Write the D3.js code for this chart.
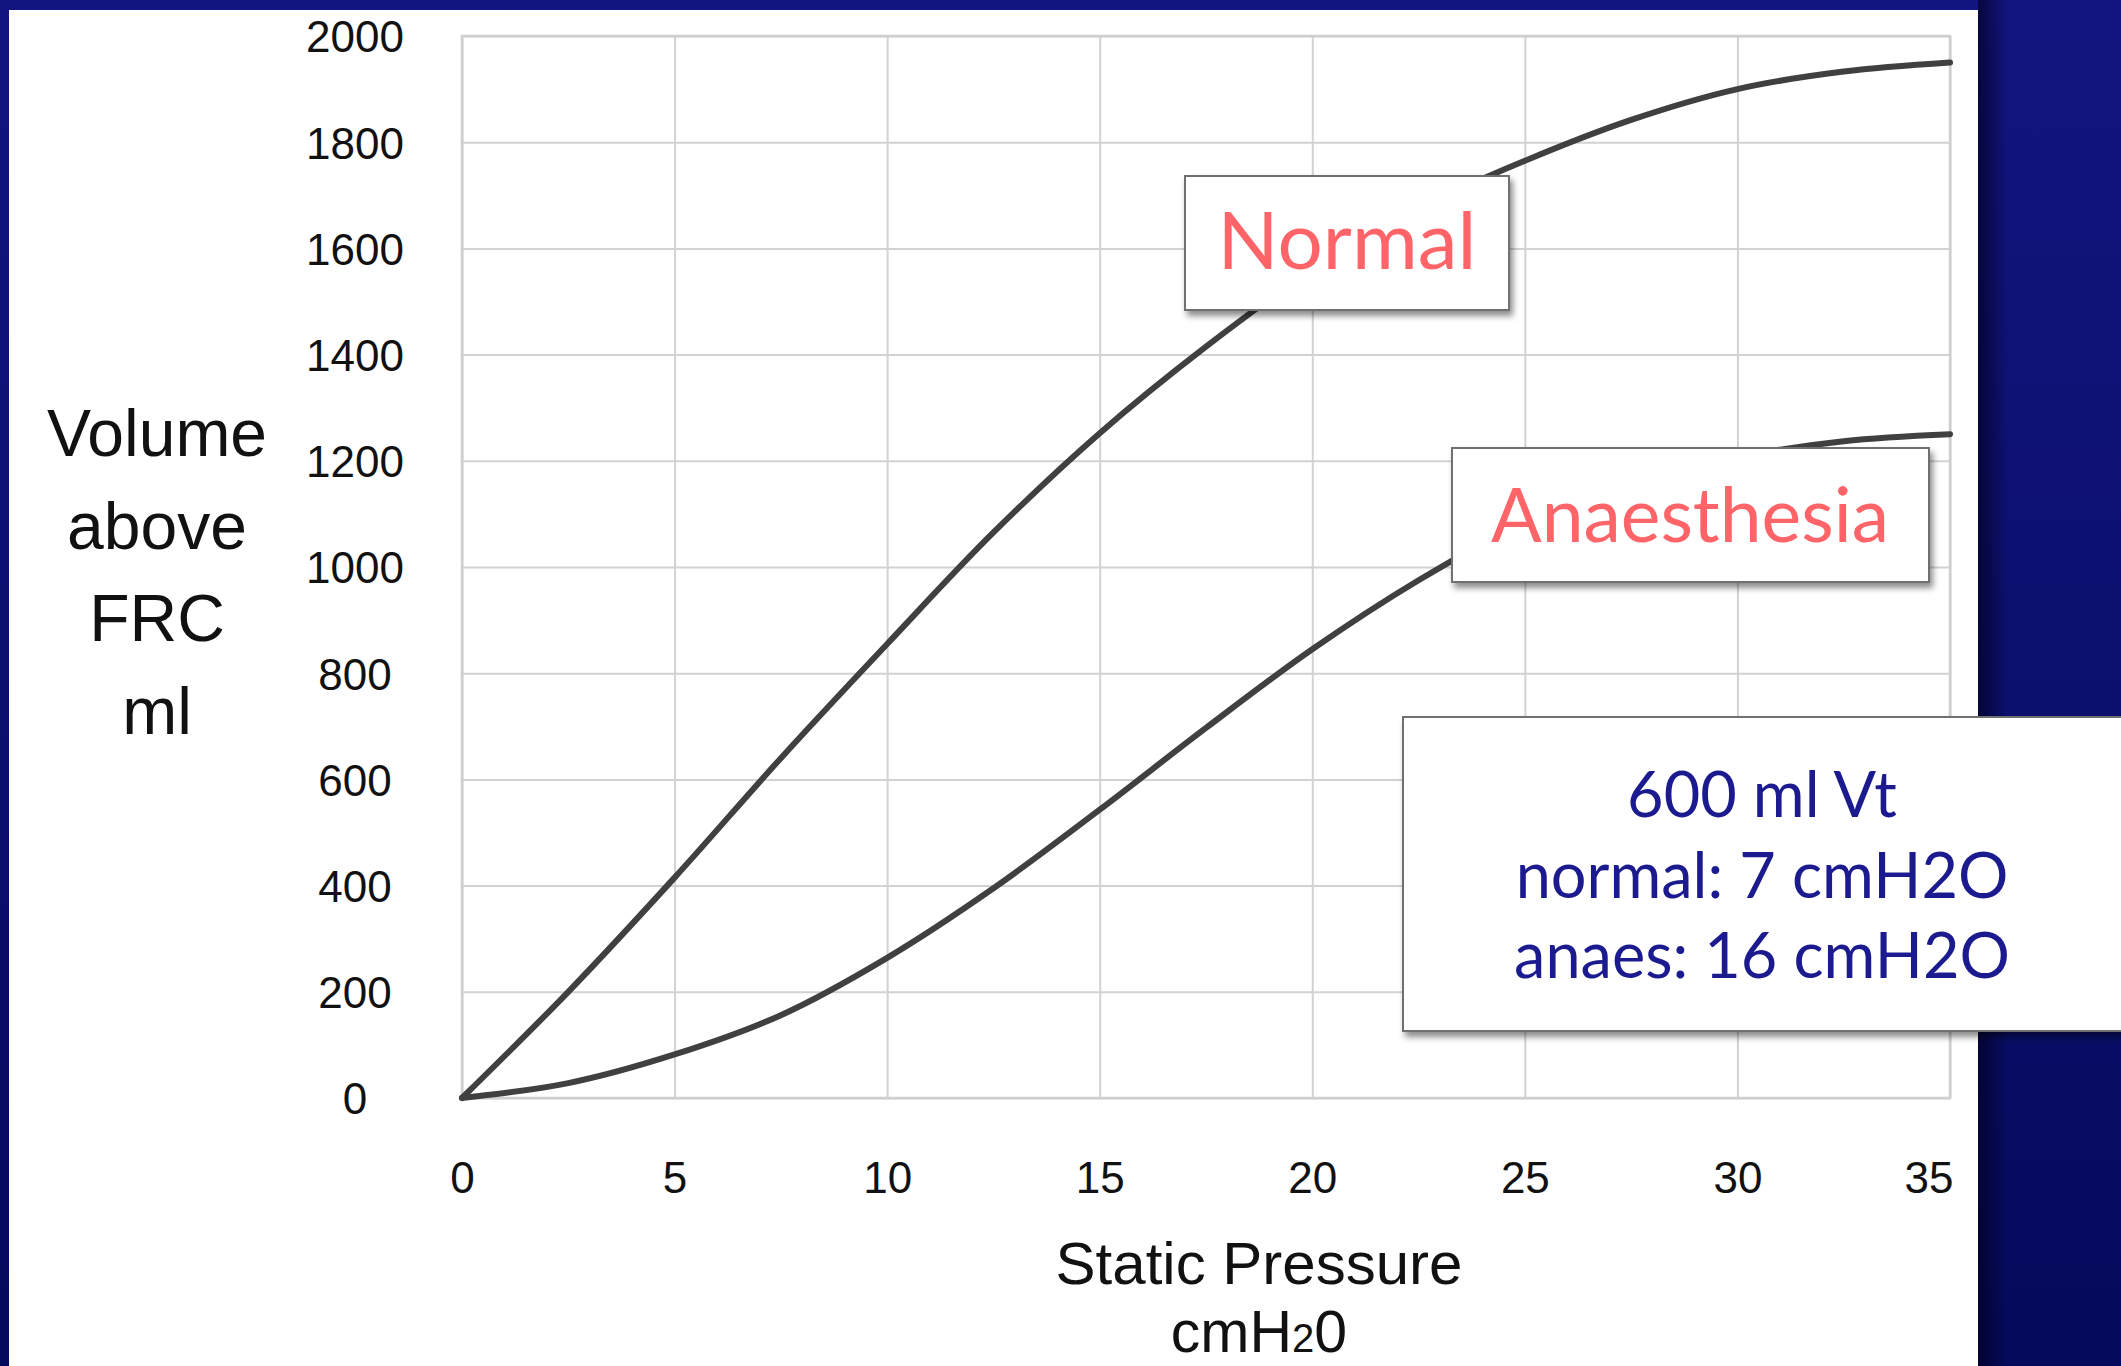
<!DOCTYPE html>
<html>
<head>
<meta charset="utf-8">
<script src="https://cdn.jsdelivr.net/npm/d3@7"></script>
<style>
html, body { margin: 0; padding: 0; background: #0b0e6a; overflow: hidden; }
svg { display: block; }
</style>
</head>
<body>
<div id="chart"></div>
<script>
// values
var pressure      = [0, 2.5, 5, 7.5, 10, 12.5, 15, 17.5, 20, 22.5, 25, 27.5, 30, 32.5, 35];
var normalVolume  = [0, 200, 415, 640, 855, 1065, 1252, 1415, 1560, 1675, 1765, 1842, 1900, 1933, 1950];
var anaesVolume   = [0, 28, 82, 156, 264, 395, 543, 697, 845, 975, 1085, 1160, 1207, 1237, 1250];
var xTicks = [0, 5, 10, 15, 20, 25, 30, 35];
var yTicks = [0, 200, 400, 600, 800, 1000, 1200, 1400, 1600, 1800, 2000];
var yTitleLines = ["Volume", "above", "FRC", "ml"];
var infoLines = ["600 ml Vt", "normal: 7 cmH2O", "anaes: 16 cmH2O"];

var W = 2121, H = 1366;
var plot = {left: 462, right: 1950, top: 36, bottom: 1098};

var svg = d3.select("#chart").append("svg")
    .attr("width", W)
    .attr("height", H);

var defs = svg.append("defs");
var bg = defs.append("linearGradient").attr("id", "bg")
    .attr("x1", 0).attr("y1", 0).attr("x2", 0).attr("y2", 1);
bg.append("stop").attr("offset", "0%").attr("stop-color", "#12157f");
bg.append("stop").attr("offset", "100%").attr("stop-color", "#050a5c");

var edge = defs.append("linearGradient").attr("id", "edge")
    .attr("x1", 0).attr("y1", 0).attr("x2", 1).attr("y2", 0);
edge.append("stop").attr("offset", "0%").attr("stop-color", "#000020").attr("stop-opacity", 0.7);
edge.append("stop").attr("offset", "100%").attr("stop-color", "#000020").attr("stop-opacity", 0);

var shadow = defs.append("filter").attr("id", "shadow")
    .attr("x", "-10%").attr("y", "-10%").attr("width", "130%").attr("height", "140%");
shadow.append("feDropShadow")
    .attr("dx", 3).attr("dy", 5)
    .attr("stdDeviation", 3)
    .attr("flood-color", "#000")
    .attr("flood-opacity", 0.45);

// slide background + white panel
svg.append("rect").attr("width", W).attr("height", H).attr("fill", "url(#bg)");
svg.append("rect").attr("x", 1978).attr("y", 0).attr("width", 30).attr("height", H).attr("fill", "url(#edge)");
svg.append("rect").attr("x", 9).attr("y", 10).attr("width", 1969).attr("height", H - 10).attr("fill", "#fff");

var x = d3.scaleLinear().domain([0, 35]).range([plot.left, plot.right]);
var y = d3.scaleLinear().domain([0, 2000]).range([plot.bottom, plot.top]);

var sans = "'Liberation Sans', Arial, sans-serif";

// x axis with gridlines
var gx = svg.append("g")
    .attr("transform", "translate(0," + plot.bottom + ")")
    .call(d3.axisBottom(x).tickValues(xTicks).tickSize(-(plot.bottom - plot.top)).tickFormat(d3.format("d")));
gx.select(".domain").remove();
gx.selectAll("line").attr("stroke", "#d2d2d2").attr("stroke-width", 2);
gx.selectAll("text")
    .attr("y", 79)
    .attr("dy", "0.36em")
    .attr("fill", "#111")
    .style("font-family", sans)
    .style("font-size", "44px");
// last label is pulled inside the frame, as on the slide
gx.selectAll("text").filter(function(d) { return d === 35; })
    .attr("text-anchor", "end")
    .attr("x", 3);

// y axis with gridlines
var gy = svg.append("g")
    .attr("transform", "translate(" + plot.left + ",0)")
    .call(d3.axisLeft(y).tickValues(yTicks).tickSize(-(plot.right - plot.left)).tickFormat(d3.format("d")));
gy.select(".domain").remove();
gy.selectAll("line").attr("stroke", "#d2d2d2").attr("stroke-width", 2);
gy.selectAll("text")
    .attr("x", -107)
    .attr("dy", "0.36em")
    .attr("text-anchor", "middle")
    .attr("fill", "#111")
    .style("font-family", sans)
    .style("font-size", "44px");

// plot frame
svg.append("rect")
    .attr("x", plot.left).attr("y", plot.top)
    .attr("width", plot.right - plot.left).attr("height", plot.bottom - plot.top)
    .attr("fill", "none").attr("stroke", "#cfcfcf").attr("stroke-width", 2.5);

// curves
var line = d3.line().curve(d3.curveCatmullRom.alpha(0.5));
[normalVolume, anaesVolume].forEach(function(vals) {
    svg.append("path")
        .attr("d", line(pressure.map(function(p, i) { return [x(p), y(vals[i])]; })))
        .attr("fill", "none")
        .attr("stroke", "#404040")
        .attr("stroke-width", 6)
        .attr("stroke-linecap", "round");
});

// axis titles
svg.append("text")
    .attr("x", 1259).attr("y", 1284)
    .attr("text-anchor", "middle")
    .style("font-family", sans).style("font-size", "60px").attr("fill", "#111")
    .text("Static Pressure");
var unit = svg.append("text")
    .attr("x", 1259).attr("y", 1352)
    .attr("text-anchor", "middle")
    .style("font-family", sans).style("font-size", "59px").attr("fill", "#111");
unit.append("tspan").text("cmH");
unit.append("tspan").style("font-size", "40px").text("2");
unit.append("tspan").text("0");

svg.selectAll(".ytitle")
    .data(yTitleLines)
  .enter().append("text")
    .attr("class", "ytitle")
    .attr("x", 157)
    .attr("y", function(d, i) { return 456 + i * 92.7; })
    .attr("text-anchor", "middle")
    .style("font-family", sans).style("font-size", "66px").attr("fill", "#111")
    .text(function(d) { return d; });

// callout boxes
var gill = "Lato, 'Open Sans', sans-serif";
function callout(bx, by, bw, bh) {
    svg.append("rect")
        .attr("x", bx).attr("y", by).attr("width", bw).attr("height", bh)
        .attr("fill", "#fff")
        .attr("stroke", "#707070").attr("stroke-width", 2)
        .attr("filter", "url(#shadow)");
}

callout(1185, 176, 324, 134);
svg.append("text")
    .attr("x", 1347).attr("y", 269)
    .attr("text-anchor", "middle")
    .style("font-family", gill).style("font-size", "80px").attr("fill", "#ff6468")
    .text("Normal");

callout(1452, 448, 477, 134);
svg.append("text")
    .attr("x", 1690).attr("y", 542)
    .attr("text-anchor", "middle")
    .style("font-family", gill).style("font-size", "75px").attr("fill", "#ff6468")
    .text("Anaesthesia");

callout(1403, 717, 760, 314);
svg.selectAll(".info")
    .data(infoLines)
  .enter().append("text")
    .attr("class", "info")
    .attr("x", 1762)
    .attr("y", function(d, i) { return 817 + i * 80.5; })
    .attr("text-anchor", "middle")
    .style("font-family", gill).style("font-size", "63px").attr("fill", "#1b1b8f")
    .text(function(d) { return d; });
</script>
</body>
</html>
